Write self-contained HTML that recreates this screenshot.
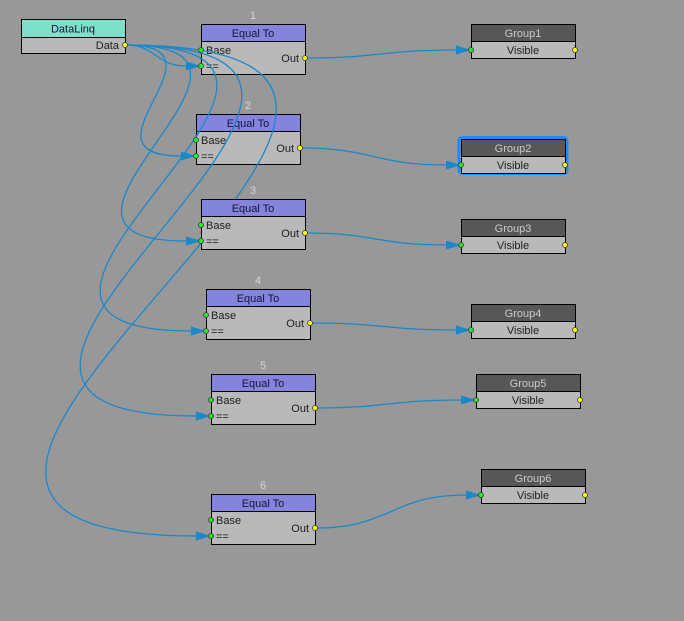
<!DOCTYPE html>
<html><head><meta charset="utf-8"><style>
html,body{margin:0;padding:0;background:#989898;}
svg{display:block;}
text{font-family:"Liberation Sans",sans-serif;font-size:11px;}
.h{fill:#14143a;text-anchor:middle;}
.gh{fill:#cacaca;text-anchor:middle;}
.b{fill:#1e1e1e;}
.c{fill:#1e1e1e;text-anchor:middle;}
.n{fill:#d6d6d6;text-anchor:middle;}
.lk{fill:none;stroke:#1a88cc;stroke-width:1.3;}
.ar{fill:#1a88cc;}
.pi{fill:#22ee22;stroke:#3a3a3a;stroke-width:0.8;}
.po{fill:#ffff00;stroke:#3a3a3a;stroke-width:0.8;}
</style></head><body>
<svg width="684" height="621" viewBox="0 0 684 621" xmlns="http://www.w3.org/2000/svg">
<rect width="684" height="621" fill="#989898"/>

<!-- DataLinq -->
<g transform="translate(21,19)">
<rect x=".5" y=".5" width="104" height="34" fill="#b9b9b9" stroke="#000"/>
<rect x=".5" y=".5" width="104" height="18" fill="#7ee0c9" stroke="#000"/>
<text x="52" y="13.5" class="h">DataLinq</text>
<text x="98" y="30" class="b" text-anchor="end">Data</text>
</g>

<!-- Equal To 1 -->
<g transform="translate(201,24)">
<rect x=".5" y=".5" width="104" height="50" fill="#b9b9b9" stroke="#000"/>
<rect x=".5" y=".5" width="104" height="17" fill="#8484dc" stroke="#000"/>
<text x="52" y="13" class="h">Equal To</text>
<text x="5" y="30" class="b">Base</text>
<text x="5" y="46" class="b">==</text>
<text x="98" y="38" class="b" text-anchor="end">Out</text>
<text x="52" y="-5" class="n">1</text>
</g>

<!-- Equal To 2 -->
<g transform="translate(196,114)">
<rect x=".5" y=".5" width="104" height="50" fill="#b9b9b9" stroke="#000"/>
<rect x=".5" y=".5" width="104" height="17" fill="#8484dc" stroke="#000"/>
<text x="52" y="13" class="h">Equal To</text>
<text x="5" y="30" class="b">Base</text>
<text x="5" y="46" class="b">==</text>
<text x="98" y="38" class="b" text-anchor="end">Out</text>
<text x="52" y="-5" class="n">2</text>
</g>

<!-- Data links -->
<path class="lk" d="M126,45 C156,45 156,66 186,66 L200,66"/>
<path class="lk" d="M126,45 C237,45 70,156 181,156 L195,156"/>
<path class="lk" d="M126,45 C322,45 -10,241 186,241 L200,241"/>
<path class="lk" d="M126,45 C412,45 -95,331 191,331 L205,331"/>
<path class="lk" d="M126,45 C497,45 -175,416 196,416 L210,416"/>
<path class="lk" d="M126,45 C617,45 -295,536 196,536 L210,536"/>
<polygon class="ar" points="201,66 186,61.5 186,70.5"/>
<polygon class="ar" points="196,156 181,151.5 181,160.5"/>
<polygon class="ar" points="201,241 186,236.5 186,245.5"/>
<polygon class="ar" points="206,331 191,326.5 191,335.5"/>
<polygon class="ar" points="211,416 196,411.5 196,420.5"/>
<polygon class="ar" points="211,536 196,531.5 196,540.5"/>

<!-- Equal To 3..6 -->
<g transform="translate(201,199)">
<rect x=".5" y=".5" width="104" height="50" fill="#b9b9b9" stroke="#000"/>
<rect x=".5" y=".5" width="104" height="17" fill="#8484dc" stroke="#000"/>
<text x="52" y="13" class="h">Equal To</text>
<text x="5" y="30" class="b">Base</text>
<text x="5" y="46" class="b">==</text>
<text x="98" y="38" class="b" text-anchor="end">Out</text>
<text x="52" y="-5" class="n">3</text>
</g>
<g transform="translate(206,289)">
<rect x=".5" y=".5" width="104" height="50" fill="#b9b9b9" stroke="#000"/>
<rect x=".5" y=".5" width="104" height="17" fill="#8484dc" stroke="#000"/>
<text x="52" y="13" class="h">Equal To</text>
<text x="5" y="30" class="b">Base</text>
<text x="5" y="46" class="b">==</text>
<text x="98" y="38" class="b" text-anchor="end">Out</text>
<text x="52" y="-5" class="n">4</text>
</g>
<g transform="translate(211,374)">
<rect x=".5" y=".5" width="104" height="50" fill="#b9b9b9" stroke="#000"/>
<rect x=".5" y=".5" width="104" height="17" fill="#8484dc" stroke="#000"/>
<text x="52" y="13" class="h">Equal To</text>
<text x="5" y="30" class="b">Base</text>
<text x="5" y="46" class="b">==</text>
<text x="98" y="38" class="b" text-anchor="end">Out</text>
<text x="52" y="-5" class="n">5</text>
</g>
<g transform="translate(211,494)">
<rect x=".5" y=".5" width="104" height="50" fill="#b9b9b9" stroke="#000"/>
<rect x=".5" y=".5" width="104" height="17" fill="#8484dc" stroke="#000"/>
<text x="52" y="13" class="h">Equal To</text>
<text x="5" y="30" class="b">Base</text>
<text x="5" y="46" class="b">==</text>
<text x="98" y="38" class="b" text-anchor="end">Out</text>
<text x="52" y="-5" class="n">6</text>
</g>

<!-- Group2 selection -->
<rect x="459" y="137.5" width="108" height="36" rx="3" fill="none" stroke="#1a8cff" stroke-width="3"/>

<!-- Groups -->
<g transform="translate(471,24)">
<rect x=".5" y=".5" width="104" height="34" fill="#b9b9b9" stroke="#000"/>
<rect x=".5" y=".5" width="104" height="17" fill="#575757" stroke="#000"/>
<text x="52" y="13" class="gh">Group1</text>
<text x="52" y="30" class="c">Visible</text>
</g>
<g transform="translate(461,139)">
<rect x=".5" y=".5" width="104" height="34" fill="#b9b9b9" stroke="#000"/>
<rect x=".5" y=".5" width="104" height="17" fill="#575757" stroke="#000"/>
<text x="52" y="13" class="gh">Group2</text>
<text x="52" y="30" class="c">Visible</text>
</g>
<g transform="translate(461,219)">
<rect x=".5" y=".5" width="104" height="34" fill="#b9b9b9" stroke="#000"/>
<rect x=".5" y=".5" width="104" height="17" fill="#575757" stroke="#000"/>
<text x="52" y="13" class="gh">Group3</text>
<text x="52" y="30" class="c">Visible</text>
</g>
<g transform="translate(471,304)">
<rect x=".5" y=".5" width="104" height="34" fill="#b9b9b9" stroke="#000"/>
<rect x=".5" y=".5" width="104" height="17" fill="#575757" stroke="#000"/>
<text x="52" y="13" class="gh">Group4</text>
<text x="52" y="30" class="c">Visible</text>
</g>
<g transform="translate(476,374)">
<rect x=".5" y=".5" width="104" height="34" fill="#b9b9b9" stroke="#000"/>
<rect x=".5" y=".5" width="104" height="17" fill="#575757" stroke="#000"/>
<text x="52" y="13" class="gh">Group5</text>
<text x="52" y="30" class="c">Visible</text>
</g>
<g transform="translate(481,469)">
<rect x=".5" y=".5" width="104" height="34" fill="#b9b9b9" stroke="#000"/>
<rect x=".5" y=".5" width="104" height="17" fill="#575757" stroke="#000"/>
<text x="52" y="13" class="gh">Group6</text>
<text x="52" y="30" class="c">Visible</text>
</g>

<!-- Out links -->
<path class="lk" d="M306,58 C381,58 381,50 456,50 L470,50"/>
<path class="lk" d="M301,148 C373,148 374,165 446,165 L460,165"/>
<path class="lk" d="M306,233 C376,233 376,245 446,245 L460,245"/>
<path class="lk" d="M311,323 C383,323 384,330 456,330 L470,330"/>
<path class="lk" d="M316,408 C388,408 389,400 461,400 L475,400"/>
<path class="lk" d="M316,528 C391,528 391,495 466,495 L480,495"/>
<polygon class="ar" points="471,50 456,45.5 456,54.5"/>
<polygon class="ar" points="461,165 446,160.5 446,169.5"/>
<polygon class="ar" points="461,245 446,240.5 446,249.5"/>
<polygon class="ar" points="471,330 456,325.5 456,334.5"/>
<polygon class="ar" points="476,400 461,395.5 461,404.5"/>
<polygon class="ar" points="481,495 466,490.5 466,499.5"/>

<!-- Ports -->
<circle class="po" cx="125" cy="45" r="2.5"/>

<circle class="pi" cx="201" cy="50" r="2.5"/><circle class="pi" cx="201" cy="66" r="2.5"/><circle class="po" cx="305" cy="58" r="2.5"/>
<circle class="pi" cx="196" cy="140" r="2.5"/><circle class="pi" cx="196" cy="156" r="2.5"/><circle class="po" cx="300" cy="148" r="2.5"/>
<circle class="pi" cx="201" cy="225" r="2.5"/><circle class="pi" cx="201" cy="241" r="2.5"/><circle class="po" cx="305" cy="233" r="2.5"/>
<circle class="pi" cx="206" cy="315" r="2.5"/><circle class="pi" cx="206" cy="331" r="2.5"/><circle class="po" cx="310" cy="323" r="2.5"/>
<circle class="pi" cx="211" cy="400" r="2.5"/><circle class="pi" cx="211" cy="416" r="2.5"/><circle class="po" cx="315" cy="408" r="2.5"/>
<circle class="pi" cx="211" cy="520" r="2.5"/><circle class="pi" cx="211" cy="536" r="2.5"/><circle class="po" cx="315" cy="528" r="2.5"/>

<circle class="pi" cx="471" cy="50" r="2.5"/><circle class="po" cx="575" cy="50" r="2.5"/>
<circle class="pi" cx="461" cy="165" r="2.5"/><circle class="po" cx="565" cy="165" r="2.5"/>
<circle class="pi" cx="461" cy="245" r="2.5"/><circle class="po" cx="565" cy="245" r="2.5"/>
<circle class="pi" cx="471" cy="330" r="2.5"/><circle class="po" cx="575" cy="330" r="2.5"/>
<circle class="pi" cx="476" cy="400" r="2.5"/><circle class="po" cx="580" cy="400" r="2.5"/>
<circle class="pi" cx="481" cy="495" r="2.5"/><circle class="po" cx="585" cy="495" r="2.5"/>
</svg>
</body></html>
